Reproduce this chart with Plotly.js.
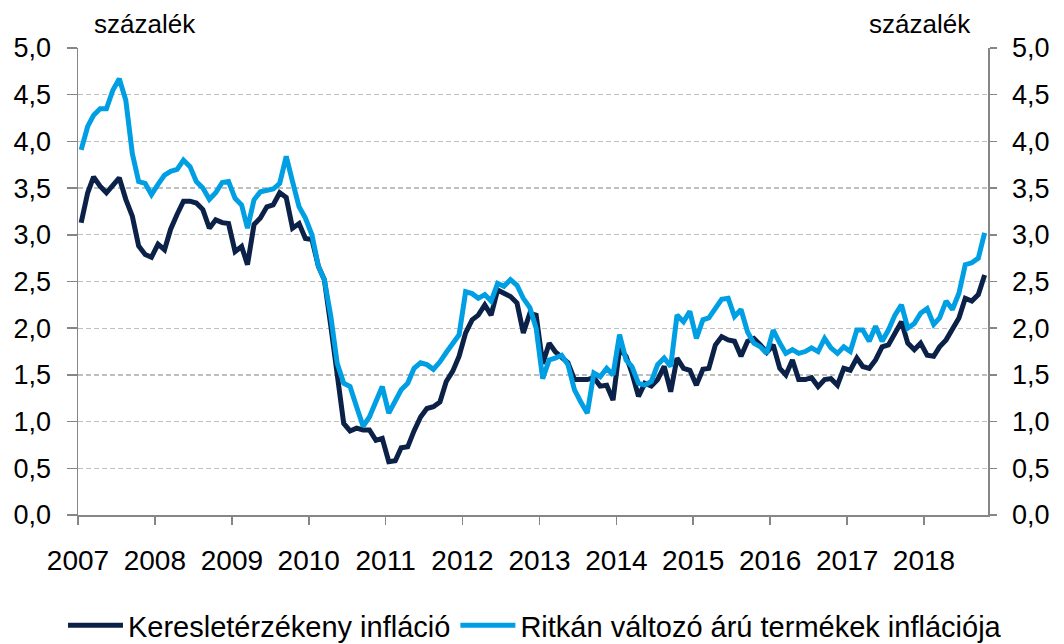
<!DOCTYPE html>
<html>
<head>
<meta charset="utf-8">
<script src="https://cdn.plot.ly/plotly-3.0.1.min.js"></script>
<style>
html,body{margin:0;padding:0;background:#fff;}
#chart{width:1064px;height:644px;}
</style>
</head>
<body>
<div id="chart"></div>
<script>
// Monthly data, January 2007 - October 2018
const startYear = 2007;
const yearTicks = ['2007','2008','2009','2010','2011','2012','2013','2014','2015','2016','2017','2018'];
const seriesNames = ['Keresletérzékeny infláció', 'Ritkán változó árú termékek inflációja'];

const keresletErzekeny = [
  3.13,3.45,3.62,3.52,3.45,3.54,3.61,3.38,3.20,2.88,2.79,2.76,
  2.90,2.84,3.06,3.22,3.36,3.36,3.34,3.27,3.07,3.16,3.13,3.12,
  2.82,2.875,2.68,3.11,3.18,3.30,3.32,3.45,3.40,3.07,3.12,2.96,
  2.95,2.66,2.52,2.02,1.52,0.98,0.90,0.93,0.91,0.91,0.80,0.82,
  0.57,0.58,0.72,0.73,0.90,1.05,1.14,1.16,1.21,1.43,1.54,1.70,
  1.95,2.09,2.14,2.25,2.14,2.41,2.375,2.34,2.27,1.95,2.16,2.14,
  1.62,1.84,1.75,1.68,1.63,1.45,1.45,1.45,1.47,1.38,1.39,1.23,
  1.78,1.70,1.52,1.27,1.41,1.38,1.45,1.59,1.32,1.68,1.57,1.55,
  1.39,1.56,1.57,1.82,1.91,1.875,1.86,1.70,1.86,1.89,1.82,1.74,
  1.82,1.57,1.50,1.66,1.45,1.45,1.47,1.375,1.45,1.46,1.39,1.57,
  1.55,1.68,1.59,1.57,1.66,1.80,1.82,1.96,2.07,1.84,1.77,1.84,
  1.71,1.70,1.80,1.875,1.98,2.11,2.32,2.29,2.36,2.57
];

const ritkanValtozo = [
  3.91,4.16,4.28,4.35,4.35,4.55,4.67,4.44,3.87,3.57,3.55,3.43,
  3.54,3.64,3.68,3.70,3.80,3.73,3.57,3.50,3.38,3.45,3.56,3.57,
  3.39,3.32,3.07,3.375,3.46,3.48,3.49,3.55,3.84,3.57,3.30,3.18,
  3.00,2.66,2.52,2.125,1.625,1.41,1.375,1.16,0.95,1.05,1.20,1.375,
  1.09,1.21,1.34,1.41,1.57,1.63,1.61,1.56,1.64,1.74,1.84,1.93,
  2.39,2.37,2.32,2.36,2.29,2.48,2.45,2.52,2.46,2.32,2.22,2.00,
  1.46,1.66,1.68,1.71,1.61,1.34,1.21,1.09,1.52,1.48,1.57,1.50,
  1.93,1.66,1.59,1.41,1.39,1.43,1.61,1.68,1.59,2.14,2.07,2.18,
  1.89,2.09,2.11,2.21,2.31,2.32,2.125,2.20,1.96,1.84,1.80,1.73,
  1.98,1.84,1.73,1.77,1.73,1.75,1.79,1.75,1.89,1.79,1.73,1.80,
  1.75,1.98,1.98,1.86,2.02,1.86,1.98,2.14,2.25,2.00,2.05,2.16,
  2.21,2.04,2.11,2.29,2.20,2.375,2.68,2.70,2.75,3.02
];

// month dates (mid-month, as the source plots each month in its own interval)
const months = keresletErzekeny.map((_, i) => {
  const y = startYear + Math.floor(i / 12);
  const m = (i % 12) + 1;
  return y + '-' + (m < 10 ? '0' + m : m) + '-16';
});

const DARK = '#0C2148';
const LIGHT = '#009FE3';
const AXIS = '#868686';
const GRID = '#BFBFBF';
const FONT = 'Liberation Sans, Arial, sans-serif';

const traces = [
  {x: months, y: keresletErzekeny, name: seriesNames[0], type: 'scatter', mode: 'lines',
   line: {color: DARK, width: 5}, yaxis: 'y'},
  {x: months, y: ritkanValtozo, name: seriesNames[1], type: 'scatter', mode: 'lines',
   line: {color: LIGHT, width: 5}, yaxis: 'y2'}
];

const yCommon = {
  range: [0, 5], dtick: 0.5, tick0: 0, tickformat: '.1f',
  showline: true, linecolor: AXIS, linewidth: 1.5,
  ticks: 'outside', ticklen: 10, tickcolor: AXIS, tickwidth: 1.5,
  zeroline: false, fixedrange: true,
  tickfont: {family: FONT, size: 27, color: '#000'},
  ticklabelstandoff: 10
};

const layout = {
  width: 1064, height: 644,
  margin: {l: 78, r: 76, t: 48, b: 129, autoexpand: false},
  paper_bgcolor: '#fff', plot_bgcolor: '#fff',
  separators: ',.',
  showlegend: true,
  xaxis: {
    type: 'date', range: ['2007-01-01', '2018-11-01'],
    tick0: '2007-01-01', dtick: 'M12', tickformat: '%Y',
    showline: true, linecolor: AXIS, linewidth: 1.5,
    ticks: 'outside', ticklen: 8, tickcolor: AXIS, tickwidth: 1.5,
    showgrid: false, zeroline: false,
    tickfont: {family: FONT, size: 28, color: '#000'},
    ticklabelstandoff: 12
  },
  yaxis: Object.assign({}, yCommon, {
    side: 'left', showgrid: true, gridcolor: GRID, gridwidth: 1.3, griddash: '5px,3px'
  }),
  yaxis2: Object.assign({}, yCommon, {
    side: 'right', overlaying: 'y', showgrid: false, ticklen: 7
  }),
  legend: {
    orientation: 'h',
    x: -0.0165, xanchor: 'left', y: -0.182, yanchor: 'top',
    font: {family: FONT, size: 29, color: '#000'},
    bgcolor: 'rgba(0,0,0,0)', itemwidth: 55, traceorder: 'normal'
  },
  annotations: [
    {text: 'százalék', xref: 'paper', yref: 'paper', x: 0.0154, y: 1.051,
     xanchor: 'left', yanchor: 'middle', showarrow: false,
     font: {family: FONT, size: 26, color: '#000'}},
    {text: 'százalék', xref: 'paper', yref: 'paper', x: 0.9835, y: 1.051,
     xanchor: 'right', yanchor: 'middle', showarrow: false,
     font: {family: FONT, size: 26, color: '#000'}}
  ]
};

Plotly.newPlot('chart', traces, layout, {displayModeBar: false, staticPlot: true});
</script>
</body>
</html>
